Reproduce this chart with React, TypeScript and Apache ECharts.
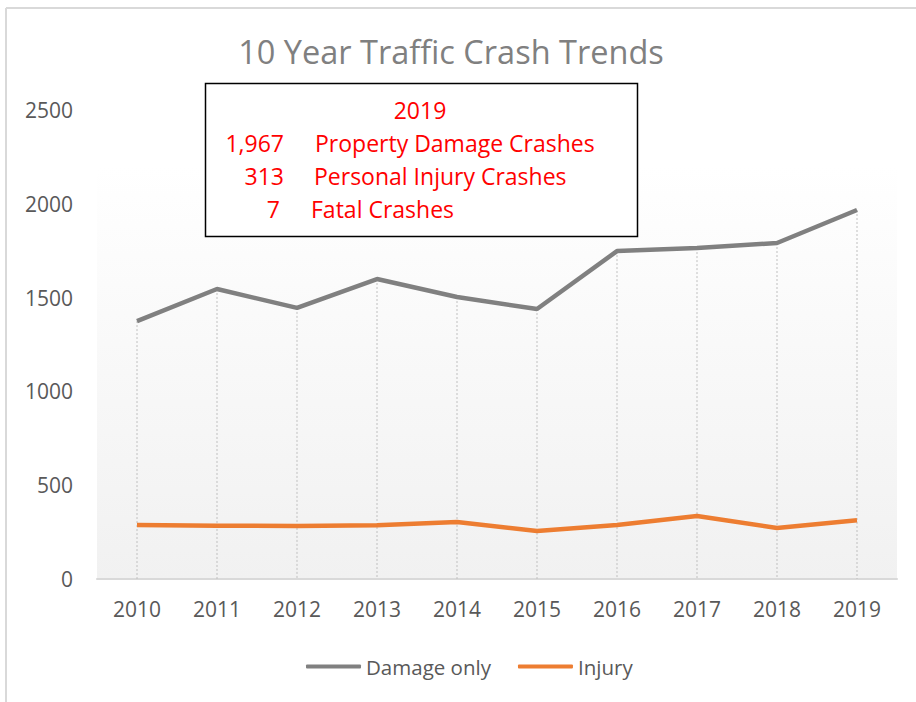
import React, { useEffect, useRef } from "react";
import * as echarts from "echarts";

const years = ["2010", "2011", "2012", "2013", "2014", "2015", "2016", "2017", "2018", "2019"];
const damageOnly = [1375, 1546, 1445, 1599, 1503, 1439, 1748, 1764, 1791, 1967];
const injury = [288, 284, 283, 286, 304, 256, 288, 336, 272, 313];
const boxTitle = "2019";
const boxCounts = ["1,967", "313", "7"];
const boxLabels = ["Property Damage Crashes", "Personal Injury Crashes", "Fatal Crashes"];

const FONT = "'Open Sans', 'Noto Sans', sans-serif";

export default function App() {
  const ref = useRef<HTMLDivElement>(null);
  useEffect(() => {
    document.body.style.margin = "0";
    const chart = echarts.init(ref.current!, null, { renderer: "svg" });
    const dropData = years.map((_, i) => [i, Math.max(damageOnly[i], injury[i])]);
    const countX = [284, 284, 280];
    const labelX = [315, 314, 311];
    const rowY = [143, 176, 209];
    const boxTexts: any[] = [
      {
        type: "text",
        z: 110,
        x: 420,
        y: 110,
        style: { text: boxTitle, fill: "#ff0000", fontSize: 23, fontFamily: FONT, align: "center", verticalAlign: "middle" },
      },
    ];
    boxCounts.forEach((c, i) => {
      boxTexts.push({
        type: "text",
        z: 110,
        x: countX[i],
        y: rowY[i],
        style: { text: c, fill: "#ff0000", fontSize: 23, fontFamily: FONT, align: "right", verticalAlign: "middle" },
      });
      boxTexts.push({
        type: "text",
        z: 110,
        x: labelX[i],
        y: rowY[i],
        style: { text: boxLabels[i], fill: "#ff0000", fontSize: 23, fontFamily: FONT, align: "left", verticalAlign: "middle" },
      });
    });
    chart.setOption({
      animation: false,
      backgroundColor: "#ffffff",
      title: {
        text: "10 Year Traffic Crash Trends",
        left: 446,
        textAlign: "center",
        top: 30,
        textStyle: { color: "#808080", fontSize: 32.5, fontWeight: "normal", fontFamily: FONT },
      },
      legend: {
        bottom: 20,
        left: 301,
        itemWidth: 55,
        itemHeight: 4,
        itemGap: 27,
        icon: "roundRect",
        textStyle: { color: "#595959", fontSize: 20.5, fontFamily: FONT },
        data: ["Damage only", "Injury"],
      },
      grid: {
        left: 97,
        right: 19,
        top: 110,
        bottom: 123,
        show: true,
        borderWidth: 0,
        backgroundColor: new echarts.graphic.LinearGradient(0, 0, 0, 1, [
          { offset: 0, color: "#ffffff" },
          { offset: 0.12, color: "#ffffff" },
          { offset: 1, color: "#f1f1f1" },
        ]),
      },
      xAxis: {
        type: "category",
        data: years,
        boundaryGap: true,
        axisLine: { lineStyle: { color: "#d9d9d9", width: 2 } },
        axisTick: { show: false },
        axisLabel: { color: "#595959", fontSize: 21, fontFamily: FONT, margin: 19 },
      },
      yAxis: {
        type: "value",
        min: 0,
        max: 2500,
        interval: 500,
        splitLine: { show: false },
        axisLine: { show: false },
        axisTick: { show: false },
        axisLabel: {
          color: "#595959",
          fontSize: 21,
          fontFamily: FONT,
          margin: 24,
          align: "right",
          formatter: (v: number) => String(v),
        },
      },
      series: [
        {
          type: "custom",
          name: "drop",
          silent: true,
          z: 1,
          data: dropData,
          renderItem: (params: any, api: any) => {
            const top = api.coord([api.value(0), api.value(1)]);
            const bottom = api.coord([api.value(0), 0]);
            return {
              type: "line",
              shape: { x1: top[0], y1: top[1], x2: bottom[0], y2: bottom[1] },
              style: { stroke: "#bfbfbf", lineWidth: 1, lineDash: [2, 2] },
            };
          },
        },
        {
          name: "Damage only",
          type: "line",
          data: damageOnly,
          symbol: "none",
          z: 3,
          lineStyle: { color: "#808080", width: 4.5 },
          itemStyle: { color: "#808080" },
        },
        {
          name: "Injury",
          type: "line",
          data: injury,
          symbol: "none",
          z: 3,
          lineStyle: { color: "#ed7d31", width: 4.5 },
          itemStyle: { color: "#ed7d31" },
        },
      ],
      graphic: [
        { type: "line", shape: { x1: 6, y1: 8, x2: 916, y2: 8 }, style: { stroke: "#d9d9d9", lineWidth: 2 } },
        { type: "line", shape: { x1: 6, y1: 8, x2: 6, y2: 702 }, style: { stroke: "#d9d9d9", lineWidth: 2 } },
        {
          type: "rect",
          z: 100,
          shape: { x: 205.5, y: 83.5, width: 432, height: 153 },
          style: { fill: "#ffffff", stroke: "#000000", lineWidth: 1.5 },
        },
        ...boxTexts,
      ],
    });
    return () => chart.dispose();
  }, []);
  return <div ref={ref} style={{ width: 916, height: 702 }} />;
}
